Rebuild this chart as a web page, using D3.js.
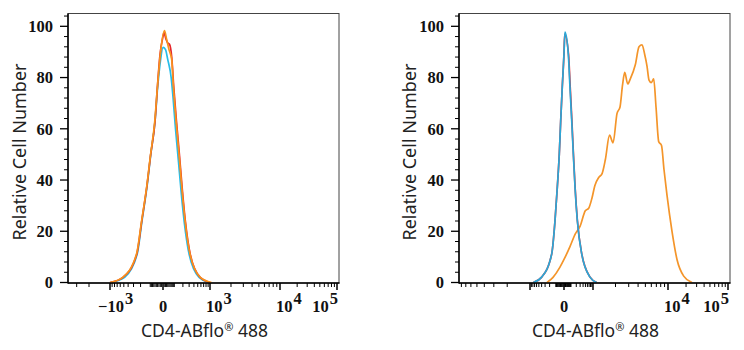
<!DOCTYPE html>
<html>
<head>
<meta charset="utf-8">
<script src="https://cdn.jsdelivr.net/npm/d3@7"></script>
<style>
  body { margin: 0; background: #fff; }
  svg { display: block; }
</style>
</head>
<body>
<svg width="744" height="350"></svg>
<script>
// histogram traces, [fluorescence, relative cell number]
var leftCyan = [[-950,0],[-480,2],[-245,11],[-183,24],[-131,37],[-95,50],[-60,63],[-40,76],[-20,86],[0,91.8],[20,91],[40,87],[70,80],[88,72],[112,60],[145,47],[178,35],[222,23],[300,11],[540,2],[950,0]];
var leftRed = [[-1000,0],[-521,2],[-251,11],[-186,24],[-133,37],[-96,50],[-60,63],[-42,76],[-22,89],[0,96],[8,97.5],[25,95],[40,93.5],[55,93],[75,88],[95,76],[122,63],[155,50],[190,37],[236,24],[322,11],[575,2],[1000,0]];
var leftOrange = [[-1000,0],[-530,2],[-255,11],[-188,24],[-134,37],[-97,50],[-62,63],[-42,76],[-20,89],[12,98.3],[30,95],[50,91],[75,87],[92,76],[118,63],[151,50],[186,37],[232,24],[318,11],[580,2],[1050,0]];

var rightOrange = [[-254,0],[-141,2],[-47,6],[0,9],[84,14],[179,19],[300,22],[493,28],[676,29],[913,33],[1058,37.8],[1196,41],[1324,42.5],[1465,48],[1666,57.5],[1854,54.5],[2097,66],[2298,68.5],[2481,77],[2655,82],[2910,77.5],[3152,79.5],[3673,85],[4115,92],[4510,92.8],[4898,89],[5256,84.5],[5590,79],[5998,78],[6454,79.5],[6927,68.5],[7521,55],[8200,53.5],[8851,44],[9705,34],[11660,20],[14125,9],[18270,2.5],[25120,0]];
var rightRed = [[-774,0],[-398,2.1],[-162,11.2],[-111,24.2],[-80,37.2],[-55,50.2],[-38,63.2],[-20,76.2],[0,89.5],[10,97],[62,89.2],[88,76.2],[115,63.2],[142,50.2],[175,37.2],[226,24.2],[352,11.2],[765,2.1],[1120,0]];
var rightBlue = [[-774,0],[-398,2.1],[-162,11.2],[-111,24.2],[-80,37.2],[-55,50.2],[-38,63.2],[-20,76.2],[0,89.2],[13,97.7],[59,89.2],[84,76.2],[112,63.2],[140,50.2],[173,37.2],[224,24.2],[350,11.2],[761,2.1],[1120,0]];

var yTicks = [0, 20, 40, 60, 80, 100];
var leftLabels = [-1e3, 0, 1e3, 1e4, 1e5];
var rightLabels = [0, 1e4, 1e5];
var xMajor = [-1e3, 0, 1e3, 1e4, 1e5];
var xTitle = "CD4-ABflo";
var xTitleRest = " 488";
var yTitle = "Relative Cell Number";

var svg = d3.select("svg");
var serif = "'Liberation Serif', 'DejaVu Serif', serif";
var sans = "'Noto Sans', 'Open Sans', sans-serif";

// biexponential-like display transform
function tf(v) { return Math.asinh(v / 150) / Math.LN10; }
var breaks = [-1e4, -1e3, 0, 1e3, 1e4, 1e5];

// minor ticks: 10..90, 100..900, 2000..9000, 20000..90000 on both sides
var xMinor = [];
[10, 100, 1000, 10000].forEach(function(d) {
  for (var k = 1; k <= 9; k++) {
    var v = k * d;
    if (xMajor.indexOf(v) < 0) { xMinor.push(v); xMinor.push(-v); }
  }
});

function panel(id, left, right, xr, labels, yTitleX, xTitleX, traces) {
  var top = 13.5, bottom = 283;
  var xs = d3.scaleLinear().domain(breaks.map(tf)).range(xr);
  var x = function(v) { return xs(tf(v)); };
  var y = d3.scaleLinear().domain([0, 105]).range([282.5, 13.5]);
  var g = svg.append("g");

  g.append("clipPath").attr("id", "clip" + id)
    .append("rect").attr("x", left).attr("y", top - 2)
    .attr("width", right - left).attr("height", bottom - top + 2);

  // frame
  g.append("rect")
    .attr("x", left).attr("y", top)
    .attr("width", right - left).attr("height", bottom - top)
    .attr("fill", "none").attr("stroke", "#444").attr("stroke-width", 1);

  // curves
  var line = d3.line()
    .x(function(d) { return x(d[0]); })
    .y(function(d) { return y(d[1]); })
    .curve(d3.curveMonotoneX);
  g.append("g").attr("clip-path", "url(#clip" + id + ")")
    .selectAll("path").data(traces).enter().append("path")
    .attr("d", function(d) { return line(d.values); })
    .attr("fill", "none")
    .attr("stroke", function(d) { return d.color; })
    .attr("stroke-width", 1.7)
    .attr("stroke-linejoin", "round");

  // y axis
  var yMinor = d3.range(0, 105, 4).filter(function(v) { return v % 20 !== 0; });
  g.selectAll(".ymin").data(yMinor).enter().append("line")
    .attr("x1", left - 4).attr("x2", left)
    .attr("y1", function(d) { return y(d); }).attr("y2", function(d) { return y(d); })
    .attr("stroke", "#000").attr("stroke-width", 1);
  g.selectAll(".ymaj").data(yTicks).enter().append("line")
    .attr("x1", left - 8).attr("x2", left)
    .attr("y1", function(d) { return y(d); }).attr("y2", function(d) { return y(d); })
    .attr("stroke", "#000").attr("stroke-width", 1.3);
  g.selectAll(".ylab").data(yTicks).enter().append("text")
    .attr("x", left - 15).attr("y", function(d) { return y(d); })
    .attr("dy", "0.35em")
    .attr("text-anchor", "end")
    .attr("font-family", serif).attr("font-size", 16.5).attr("font-weight", "bold")
    .attr("fill", "#111")
    .text(function(d) { return d; });

  // x axis
  var inside = function(v) { var p = x(v); return p >= left && p <= right + 0.5; };
  g.selectAll(".xmin").data(xMinor.filter(inside)).enter().append("line")
    .attr("x1", function(d) { return x(d); }).attr("x2", function(d) { return x(d); })
    .attr("y1", bottom).attr("y2", bottom + 4)
    .attr("stroke", "#000").attr("stroke-width", 1);
  g.selectAll(".xmaj").data(xMajor.filter(inside)).enter().append("line")
    .attr("x1", function(d) { return x(d); }).attr("x2", function(d) { return x(d); })
    .attr("y1", bottom).attr("y2", bottom + 7)
    .attr("stroke", "#000").attr("stroke-width", 1.5);

  var lab = g.selectAll(".xlab").data(labels).enter().append("text")
    .attr("y", 312)
    .attr("font-family", serif).attr("font-size", 16.5).attr("font-weight", "bold")
    .attr("fill", "#111")
    .attr("x", function(d) {
      if (d === 0) return x(d);
      if (d === 1e5) return x(d) + 1;
      return d < 0 ? x(d) - 12 : x(d) - 4;
    })
    .attr("text-anchor", function(d) {
      if (d === 0) return "middle";
      return d === 1e5 ? "end" : "start";
    });
  lab.append("tspan").text(function(d) {
    if (d === 0) return "0";
    return (d < 0 ? "\u221210" : "10");
  });
  lab.filter(function(d) { return d !== 0; }).append("tspan")
    .attr("dy", -8).attr("dx", 1)
    .text(function(d) { return Math.round(Math.log10(Math.abs(d))); });

  // axis lines
  g.append("line").attr("x1", left).attr("x2", left).attr("y1", top).attr("y2", bottom + 0.5)
    .attr("stroke", "#000").attr("stroke-width", 1.5);
  g.append("line").attr("x1", left).attr("x2", right + 0.5).attr("y1", bottom).attr("y2", bottom)
    .attr("stroke", "#000").attr("stroke-width", 1.5);

  // titles
  g.append("text")
    .attr("transform", "translate(" + yTitleX + ",152) rotate(-90)")
    .attr("text-anchor", "middle").attr("dy", "0.35em")
    .attr("font-family", sans).attr("font-size", 18).attr("fill", "#222")
    .text(yTitle);
  var xt = g.append("text")
    .attr("x", xTitleX).attr("y", 337)
    .attr("text-anchor", "middle")
    .attr("font-family", sans).attr("font-size", 17.5).attr("fill", "#222");
  xt.append("tspan").text(xTitle);
  xt.append("tspan").attr("font-size", 11).attr("dy", -6).text("\u00AE");
  xt.append("tspan").attr("dy", 6).text(xTitleRest);
}

panel("L", 68, 339, [40, 110, 163, 210, 280, 337], leftLabels, 20, 204.5, [
  { values: leftCyan, color: "#26bde9" },
  { values: leftRed, color: "#e5262b" },
  { values: leftOrange, color: "#f7921e" }
]);
panel("R", 459, 730, [454, 530, 564, 593, 668, 728], rightLabels, 410, 595.5, [
  { values: rightOrange, color: "#f4952a" },
  { values: rightRed, color: "#e5262b" },
  { values: rightBlue, color: "#2aa8d8" }
]);
</script>
</body>
</html>
